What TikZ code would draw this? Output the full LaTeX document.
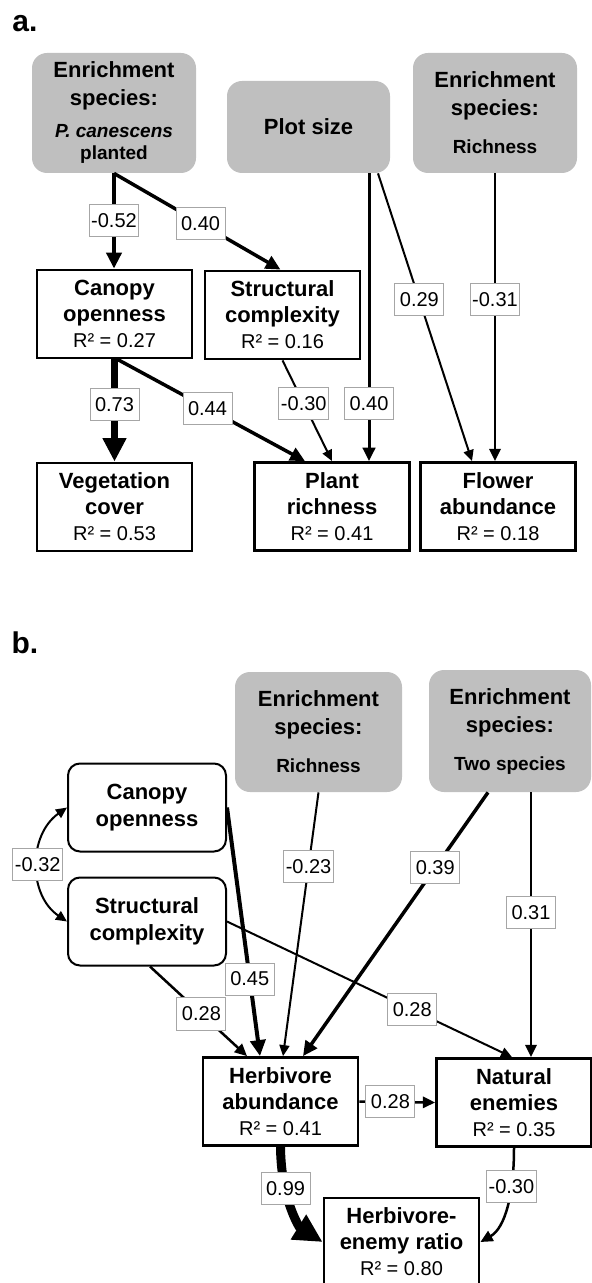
\documentclass[tikz,border=0pt]{standalone}
\usepackage{fontspec}
\setmainfont{Liberation Sans}
\usetikzlibrary{calc,arrows.meta}
\definecolor{boxgray}{RGB}{191,191,191}
\definecolor{labgray}{RGB}{166,166,166}
\newcommand{\rsq}[1]{{\mdseries\fontsize{10}{12}\selectfont R² = #1}}

\begin{document}
\begin{tikzpicture}[x=0.5pt,y=-0.5pt,
	>={Triangle[length=3pt 2.5,width=2.5pt 2.5]},
	exo/.style={fill=boxgray,rounded corners=7.5pt,align=center,inner sep=0pt,font=\bfseries\fontsize{11}{14}\selectfont},
	resp/.style={draw,line width=1.4pt,align=center,inner sep=0pt,minimum width=77.5pt,minimum height=44pt,font=\bfseries\fontsize{11}{13}\selectfont},
	corr/.style={draw,line width=1pt,rounded corners=6pt,align=center,inner sep=0pt,minimum width=79pt,minimum height=44pt,font=\bfseries\fontsize{11}{13.5}\selectfont},
	lab/.style={draw=labgray,line width=0.5pt,fill=white,inner sep=1pt,minimum width=24.5pt,minimum height=16pt,font=\mdseries\fontsize{10}{12}\selectfont}
	]
	\useasboundingbox (0,0) rectangle (592,1283);
	\node[font=\bfseries\fontsize{15}{18}\selectfont] (pa) at (25,24) {a.};
	\node[font=\bfseries\fontsize{15}{18}\selectfont] (pb) at (25,643) {b.};

	\node[exo,minimum width=82pt,minimum height=60pt] (ensp) at (114,113) {Enrichment\\species:\\[2pt]{\fontsize{9.5}{11}\selectfont\itshape P. canescens}\\[-3pt]{\fontsize{9.5}{11}\selectfont planted}};
	\node[exo,minimum width=81.5pt,minimum height=46pt] (plot) at (308.5,127) {Plot size};
	\node[exo,minimum width=82pt,minimum height=60pt] (enri) at (495,113) {Enrichment\\species:\\[5pt]{\fontsize{9.5}{11}\selectfont Richness}};
	\node[resp] (canA) at (114.5,314) {Canopy\\openness\\\rsq{0.27}};
	\node[resp] (strA) at (282.5,315) {Structural\\complexity\\\rsq{0.16}};
	\node[resp] (veg) at (114.5,507) {Vegetation\\cover\\\rsq{0.53}};
	\node[resp] (plr) at (332,506.5) {Plant\\richness\\\rsq{0.41}};
	\node[resp] (flw) at (498,506.5) {Flower\\abundance\\\rsq{0.18}};

	\draw[->,line width=2pt] (ensp.south) -- node[lab]{-0.52} (ensp.south |- canA.north);
	\draw[->,line width=1.75pt] (ensp.south) -- node[lab,pos=0.52]{0.40} ([xshift=-1pt]strA.north);
	\draw[->,line width=3.5pt] (canA.south) -- node[lab,pos=0.44]{0.73} (veg.north);
	\draw[->,line width=1.75pt] ([xshift=1.5pt]canA.south) -- node[lab,pos=0.48]{0.44} ([xshift=-13.5pt]plr.north);
	\draw[->,line width=1pt] (strA.south) -- node[lab,pos=0.43]{-0.30} (plr.north);
	\coordinate (ps1) at ([xshift=30.25pt]plot.south);
	\draw[->,line width=1.5pt] (ps1) -- node[lab,pos=0.8]{0.40} (ps1 |- plr.north);
	\draw[->,line width=1pt] ([xshift=34.75pt]plot.south) -- node[lab,pos=0.44]{0.29} ([xshift=-13pt]flw.north);
	\draw[->,line width=1.25pt] (enri.south) -- node[lab,pos=0.44]{-0.31} (enri.south |- flw.north);

	\node[exo,minimum width=83.5pt,minimum height=60pt] (enrB) at (318.5,732) {Enrichment\\species:\\[5pt]{\fontsize{9.5}{11}\selectfont Richness}};
	\node[exo,minimum width=81pt,minimum height=61pt] (two) at (510,731) {Enrichment\\species:\\[5pt]{\fontsize{9.5}{11}\selectfont Two species}};
	\node[corr] (canB) at (147,807.5) {Canopy\\openness};
	\node[corr] (strB) at (147,921.5) {Structural\\complexity};
	\node[resp] (herb) at (280.5,1101.5) {Herbivore\\abundance\\\rsq{0.41}};
	\node[resp] (nat) at (514,1102.5) {Natural\\enemies\\\rsq{0.35}};
	\node[resp] (ratio) at (401.5,1242) {Herbivore-\\enemy ratio\\\rsq{0.80}};

	\draw[<->,line width=1pt] (canB.west) .. controls (28,835) and (28,895) .. node[lab]{-0.32} (strB.west);
	\draw[->,line width=2pt] (canB.east) -- node[lab,pos=0.69]{0.45} ([xshift=-10.25pt]herb.north);
	\draw[->,line width=1.25pt] ([xshift=1.5pt]strB.south) -- node[lab,pos=0.53]{0.28} ([xshift=-16.75pt]herb.north);
	\draw[->,line width=1pt] (enrB.south) -- node[lab,pos=0.28]{-0.23} ([xshift=1.25pt]herb.north);
	\draw[->,line width=1.75pt] ([xshift=-11pt]two.south) -- node[lab,pos=0.285]{0.39} ([xshift=11.25pt]herb.north);
	\coordinate (ts1) at ([xshift=10.5pt]two.south);
	\draw[->,line width=1.25pt] (ts1) -- node[lab,pos=0.455]{0.31} (ts1 |- nat.north);
	\draw[->,line width=1pt] (strB.east) -- node[lab,pos=0.65]{0.28} ([xshift=-1pt]nat.north);
	\draw[->,line width=1.25pt] (herb.east) -- node[lab,pos=0.41]{0.28} (nat.west);
	\draw[->,line width=4.5pt] (herb.south) .. controls (281,1200) and (300,1228) .. node[lab,pos=0.3]{0.99} (ratio.west);
	\draw[->,line width=1.25pt] (nat.south) .. controls (514,1195) and (505,1228) .. node[lab,pos=0.3]{-0.30} (ratio.east);
\end{tikzpicture}
\end{document}
